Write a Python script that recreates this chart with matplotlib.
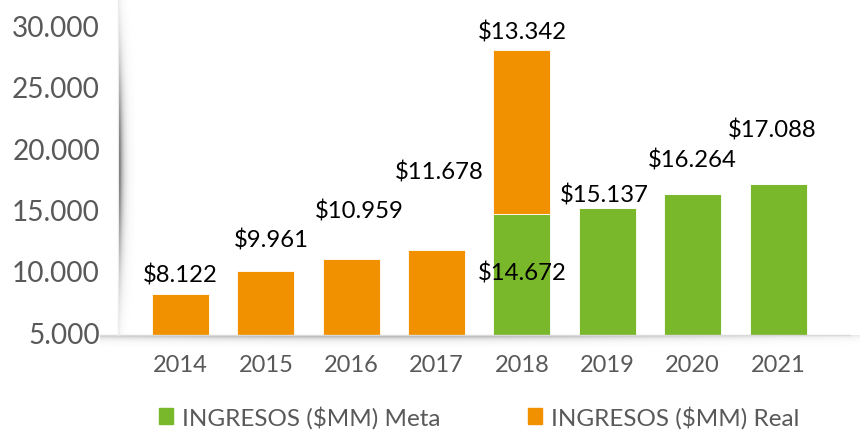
import numpy as np
import matplotlib.pyplot as plt
from matplotlib.patches import Patch
from matplotlib.lines import Line2D

# data
years = ['2014', '2015', '2016', '2017', '2018', '2019', '2020', '2021']
meta = [0, 0, 0, 0, 14672, 15137, 16264, 17088]
real = [8122, 9961, 10959, 11678, 13342, 0, 0, 0]
y_ticks = [5000, 10000, 15000, 20000, 25000, 30000]

# value labels: text, x index, y (data coords, as placed in the original)
label_text = ['$8.122', '$9.961', '$10.959', '$11.678', '$13.342', '$14.672',
              '$15.137', '$16.264', '$17.088']
label_x = [0.0, 1.07, 2.09, 3.03, 4.01, 4.01, 4.97, 5.99, 6.93]
label_y = [9700, 12550, 14900, 18070, 29550, 9870, 16200, 19050, 21570]

GREEN = '#78B82A'
ORANGE = '#F29100'
GRAY = '#595959'

plt.rcParams['font.family'] = ['Lato', 'DejaVu Sans']

W, H = 862, 431
fig = plt.figure(figsize=(W / 100, H / 100), dpi=100)
ax = fig.add_axes([118 / W, 95 / H, 728 / W, 336 / H])
ax.set_facecolor('none')

x = np.arange(len(years))
ax.bar(x, meta, width=0.667, color=GREEN, edgecolor='white', linewidth=0.6)
ax.bar(x, real, width=0.667, bottom=meta, color=ORANGE, edgecolor='white', linewidth=0.6)

for t, lx, ly in zip(label_text, label_x, label_y):
    ax.text(lx, ly, t, ha='center', va='center', fontsize=17.2, color='black')

ax.set_xlim(-0.7316, 7.796)
ax.set_ylim(4780, 32170)
ax.set_yticks(y_ticks)
ax.set_yticklabels([f'{v:,}'.replace(',', '.') for v in y_ticks])
ax.set_xticks(x)
ax.set_xticklabels(years)
ax.tick_params(axis='y', length=0, pad=13, labelsize=20.2, labelcolor=GRAY)
ax.tick_params(axis='x', length=0, pad=14, labelsize=17, labelcolor=GRAY)
for s in ax.spines.values():
    s.set_visible(False)

# axis lines
fig.add_artist(Line2D([100 / W, 850 / W], [95 / H, 95 / H], color='#d9d9d9', lw=1))
fig.add_artist(Line2D([118 / W, 118 / W], [95 / H, 1], color='#ececec', lw=1))

# left shadow
yy, xx = np.mgrid[0:336, 0:16]
a = 0.75 * np.exp(-xx / 3.5) * np.exp(-((yy - 165) / 105.0) ** 2)
img = np.zeros((336, 16, 4))
img[..., :3] = 0.2
img[..., 3] = a
sh = fig.add_axes([119 / W, 95 / H, 16 / W, 336 / H])
sh.imshow(img, extent=[0, 1, 0, 1], aspect='auto', interpolation='bilinear')
sh.axis('off')

# bottom shadow
yy, xx = np.mgrid[0:12, 0:760]
a = 0.5 * np.exp(-yy / 3.0) * np.exp(-((xx - 280) / 380.0) ** 2)
img = np.zeros((12, 760, 4))
img[..., :3] = 0.2
img[..., 3] = a
sh2 = fig.add_axes([100 / W, 83 / H, 760 / W, 12 / H])
sh2.imshow(img, extent=[0, 1, 0, 1], aspect='auto', interpolation='bilinear')
sh2.axis('off')

handles = [Patch(color=GREEN, label='INGRESOS ($MM) Meta'),
           Patch(color=ORANGE, label='INGRESOS ($MM) Real')]
leg = fig.legend(handles=handles, loc='center', bbox_to_anchor=(479 / W, 1 - 418 / H),
                 ncol=2, frameon=False, fontsize=17.5, handlelength=0.6, handleheight=0.6,
                 handletextpad=0.35, columnspacing=3.6, borderpad=0)
for t in leg.get_texts():
    t.set_color(GRAY)

fig.savefig('out.png', dpi=100)
